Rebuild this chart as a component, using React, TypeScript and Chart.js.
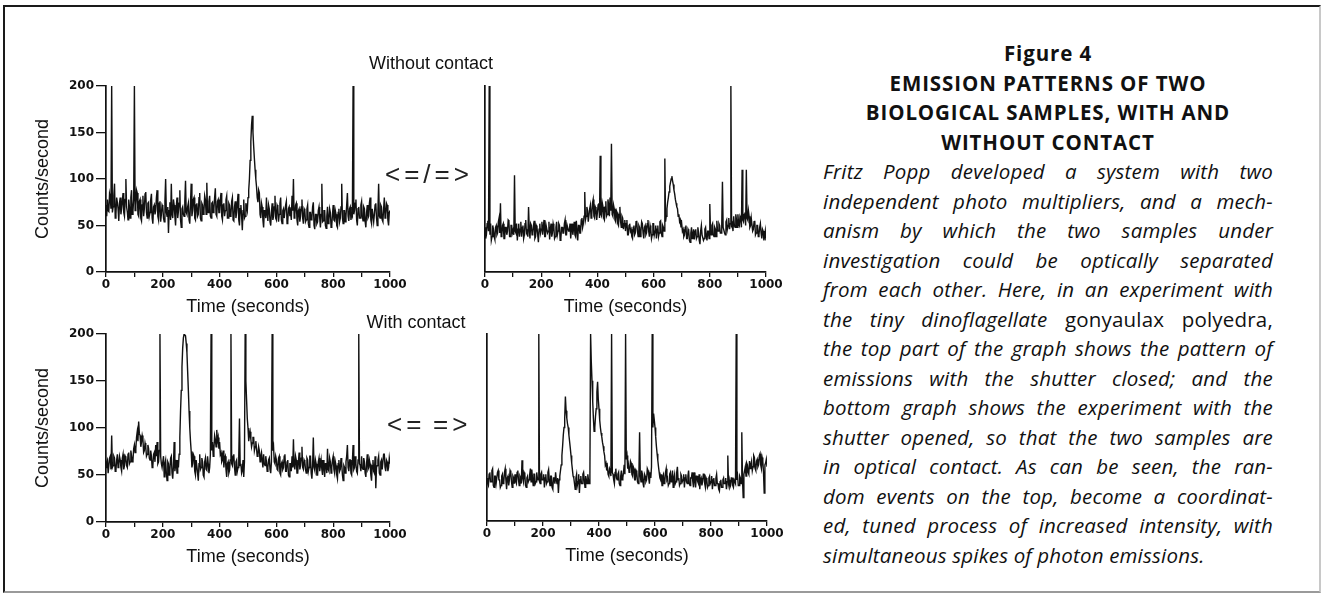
import React, { useEffect, useRef } from 'react';
import { Chart, registerables } from 'chart.js';

Chart.register(...registerables);

// ---- axes / labels ----
const SAMPLE_STEP_S = 2.5; // one reading every 2.5 seconds
const X_MIN = 0;
const X_MAX = 1000;
const X_TICK_STEP = 100;
const X_LABEL_EVERY = 200;
const Y_MIN = 0;
const Y_MAX = 200;
const Y_TICK_STEP = 50;
const X_TITLE = 'Time (seconds)';
const Y_TITLE = 'Counts/second';
const ROW_TITLES = ['Without contact', 'With contact'];
const ROW_SYMBOLS = ['<=/=>', '<=', '=>'];

// ---- series (counts/second, one row = 50 s) ----
const withoutContactLeft = [
  72, 60, 78, 66, 65, 84, 80, 68, 200, 64, 70, 82, 95, 58, 62, 80, 75, 68, 55, 74,
  80, 62, 68, 76, 85, 64, 60, 78, 100, 70, 65, 56, 78, 70, 58, 80, 88, 62, 66, 78,
  200, 66, 72, 88, 85, 62, 60, 76, 78, 58, 55, 72, 82, 60, 68, 84, 86, 64, 58, 74,
  75, 60, 64, 78, 84, 58, 52, 70, 72, 62, 66, 80, 88, 60, 56, 74, 76, 54, 62, 72,
  70, 58, 54, 76, 100, 64, 60, 70, 42, 66, 75, 56, 95, 62, 58, 78, 72, 60, 50, 70,
  80, 58, 65, 74, 88, 56, 48, 68, 70, 62, 60, 76, 98, 64, 62, 70, 74, 56, 52, 74,
  95, 60, 66, 78, 80, 58, 56, 72, 74, 60, 62, 80, 85, 58, 55, 74, 72, 62, 66, 82,
  78, 62, 96, 66, 64, 76, 82, 60, 58, 74, 75, 64, 68, 80, 90, 62, 60, 76, 78, 64,
  64, 78, 85, 60, 56, 72, 74, 60, 66, 78, 82, 58, 58, 74, 72, 60, 62, 76, 80, 56,
  55, 70, 76, 58, 64, 74, 84, 56, 50, 68, 72, 60, 45, 66, 78, 58, 60, 74, 70, 66,
  80, 88, 100, 120, 140, 158, 168, 150, 135, 122, 110, 100, 92, 80, 75, 88, 85, 62, 58, 74,
  70, 56, 48, 66, 66, 58, 80, 62, 55, 72, 68, 54, 50, 64, 74, 56, 60, 70, 82, 58,
  56, 72, 70, 54, 62, 74, 80, 56, 52, 66, 68, 58, 58, 72, 76, 52, 54, 68, 70, 60,
  64, 56, 82, 66, 100, 58, 62, 72, 74, 56, 50, 66, 68, 54, 60, 70, 78, 58, 52, 68,
  66, 54, 56, 68, 72, 52, 48, 64, 64, 56, 58, 70, 75, 50, 46, 62, 62, 52, 54, 66,
  70, 58, 48, 62, 95, 54, 55, 66, 66, 50, 47, 60, 70, 52, 56, 68, 64, 48, 50, 62,
  72, 56, 55, 66, 62, 50, 48, 64, 68, 54, 58, 70, 95, 58, 52, 66, 66, 54, 60, 72,
  85, 60, 55, 68, 70, 56, 62, 60, 200, 62, 66, 74, 78, 56, 50, 68, 70, 58, 58, 72,
  76, 60, 55, 70, 68, 54, 48, 64, 72, 58, 60, 74, 80, 56, 52, 68, 68, 54, 62, 72,
  74, 58, 50, 66, 95, 60, 58, 72, 70, 56, 54, 68, 80, 58, 62, 74, 72, 56, 50, 64,
  66,
];

const withoutContactRight = [
  48, 36, 40, 52, 55, 44, 200, 40, 52, 34, 38, 50, 46, 38, 35, 48, 50, 40, 42, 54,
  58, 42, 74, 38, 40, 50, 52, 36, 36, 48, 48, 40, 44, 56, 55, 38, 38, 50, 50, 42,
  45, 40, 104, 44, 42, 52, 34, 46, 52, 38, 46, 54, 38, 48, 50, 36, 40, 52, 56, 42,
  44, 38, 70, 46, 36, 52, 50, 40, 42, 50, 55, 36, 38, 50, 48, 40, 32, 46, 52, 42,
  46, 54, 40, 48, 56, 38, 38, 50, 50, 42, 44, 54, 35, 46, 52, 38, 42, 52, 48, 36,
  38, 48, 54, 40, 44, 52, 50, 34, 36, 48, 48, 42, 42, 52, 56, 40, 40, 50, 50, 44,
  44, 52, 36, 46, 52, 40, 46, 54, 40, 38, 55, 44, 34, 50, 50, 42, 42, 56, 58, 48,
  52, 60, 86, 56, 60, 70, 66, 54, 54, 68, 72, 58, 62, 74, 78, 60, 58, 70, 68, 56,
  64, 72, 74, 58, 125, 62, 60, 74, 70, 58, 56, 70, 76, 60, 62, 78, 72, 60, 80, 66,
  138, 62, 60, 72, 68, 56, 54, 66, 64, 52, 50, 62, 70, 54, 48, 60, 58, 46, 52, 56,
  44, 52, 56, 40, 40, 50, 52, 44, 46, 38, 36, 48, 50, 40, 42, 54, 55, 44, 38, 50,
  48, 38, 44, 54, 52, 42, 36, 48, 50, 40, 42, 52, 56, 44, 38, 50, 46, 36, 40, 52,
  52, 40, 44, 50, 36, 46, 50, 38, 42, 54, 55, 42, 38, 50, 48, 44, 122, 54, 60, 68,
  75, 80, 86, 92, 96, 100, 103, 98, 94, 88, 84, 78, 74, 70, 68, 60, 62, 54, 56, 48,
  52, 44, 46, 38, 40, 48, 50, 36, 36, 46, 44, 34, 32, 42, 48, 36, 40, 46, 35, 44,
  46, 36, 38, 48, 42, 34, 30, 44, 50, 40, 40, 34, 36, 46, 48, 38, 34, 44, 44, 36,
  73, 44, 40, 50, 52, 40, 38, 48, 46, 38, 55, 44, 44, 52, 50, 42, 42, 50, 97, 48,
  48, 42, 40, 54, 56, 46, 50, 58, 46, 52, 200, 50, 52, 44, 60, 50, 48, 62, 56, 48,
  62, 52, 50, 60, 58, 48, 110, 56, 54, 62, 64, 50, 110, 58, 56, 66, 60, 48, 50, 58,
  58, 44, 46, 54, 55, 40, 42, 50, 50, 38, 40, 48, 52, 42, 36, 46, 44, 34, 38, 44,
  34,
];

const withContactLeft = [
  58, 64, 66, 52, 52, 68, 70, 56, 92, 58, 60, 70, 68, 54, 55, 66, 72, 58, 62, 70,
  66, 58, 54, 68, 72, 56, 60, 70, 68, 60, 58, 72, 74, 62, 64, 76, 70, 64, 66, 78,
  82, 74, 78, 90, 96, 86, 107, 94, 92, 80, 85, 92, 88, 74, 76, 84, 80, 70, 72, 82,
  78, 68, 66, 76, 70, 58, 60, 72, 74, 64, 82, 70, 85, 62, 64, 76, 200, 70, 62, 58,
  58, 70, 48, 62, 66, 52, 44, 64, 62, 50, 55, 68, 70, 52, 46, 60, 85, 54, 60, 66,
  52, 66, 58, 72, 90, 118, 140, 165, 185, 196, 200, 200, 198, 190, 180, 160, 140, 118, 100, 86,
  75, 58, 62, 72, 70, 54, 50, 66, 66, 52, 44, 62, 72, 56, 58, 68, 64, 50, 48, 64,
  68, 56, 55, 70, 62, 52, 58, 72, 200, 76, 85, 70, 78, 92, 88, 80, 98, 86, 90, 78,
  85, 72, 74, 64, 66, 76, 58, 68, 70, 56, 48, 62, 64, 52, 55, 66, 200, 62, 60, 70,
  72, 58, 50, 64, 66, 54, 58, 70, 110, 60, 62, 52, 55, 66, 48, 64, 200, 150, 130, 110,
  100, 86, 92, 96, 88, 80, 84, 90, 90, 76, 80, 86, 78, 70, 72, 80, 76, 64, 70, 74,
  66, 58, 72, 62, 60, 70, 64, 54, 58, 66, 68, 56, 52, 64, 200, 76, 80, 64, 62, 70,
  66, 56, 55, 68, 70, 52, 50, 62, 64, 56, 58, 70, 72, 54, 54, 64, 66, 50, 48, 62,
  62, 54, 70, 58, 88, 60, 56, 70, 66, 52, 52, 64, 74, 56, 60, 68, 80, 58, 56, 66,
  64, 56, 52, 68, 66, 54, 58, 70, 70, 52, 46, 60, 90, 58, 55, 66, 62, 50, 50, 64,
  68, 54, 60, 66, 56, 50, 66, 58, 48, 62, 62, 52, 78, 56, 54, 68, 64, 52, 58, 66,
  70, 56, 52, 64, 60, 50, 46, 62, 66, 54, 56, 68, 62, 50, 44, 60, 58, 52, 64, 70,
  82, 58, 54, 66, 66, 52, 50, 64, 82, 56, 58, 70, 62, 54, 52, 66, 200, 62, 60, 54,
  70, 58, 56, 68, 64, 52, 48, 62, 72, 56, 58, 66, 62, 50, 44, 60, 66, 54, 52, 70,
  36, 58, 60, 66, 70, 52, 50, 64, 66, 56, 56, 72, 72, 58, 54, 66, 64, 54, 58, 68,
  62,
];

const withContactRight = [
  46, 40, 38, 50, 52, 42, 42, 54, 56, 38, 36, 48, 48, 40, 40, 52, 54, 44, 44, 36,
  38, 48, 50, 40, 42, 52, 56, 44, 34, 46, 48, 38, 44, 54, 52, 42, 36, 48, 46, 40,
  50, 42, 40, 52, 54, 44, 38, 48, 46, 40, 65, 46, 42, 52, 50, 38, 36, 46, 48, 42,
  44, 50, 56, 42, 55, 46, 38, 50, 50, 40, 42, 52, 46, 44, 200, 42, 40, 50, 52, 44,
  44, 50, 36, 46, 50, 40, 42, 52, 55, 44, 38, 48, 48, 36, 34, 46, 46, 40, 52, 44,
  40, 46, 30, 44, 48, 54, 60, 70, 80, 92, 100, 110, 133, 118, 110, 104, 100, 92, 85, 78,
  70, 62, 55, 48, 46, 40, 34, 46, 50, 38, 42, 50, 30, 44, 48, 40, 40, 50, 52, 44,
  36, 48, 44, 40, 50, 44, 40, 48, 200, 170, 150, 128, 110, 96, 100, 112, 120, 138, 149, 130,
  120, 108, 100, 94, 90, 84, 80, 74, 70, 60, 62, 54, 58, 50, 48, 56, 54, 48, 200, 52,
  50, 44, 40, 52, 56, 46, 44, 50, 52, 40, 38, 48, 54, 44, 46, 52, 60, 50, 200, 66,
  70, 56, 60, 52, 55, 64, 62, 50, 48, 58, 56, 44, 44, 54, 52, 42, 40, 50, 95, 48,
  42, 54, 50, 40, 36, 50, 48, 42, 44, 56, 54, 46, 40, 52, 46, 58, 200, 100, 115, 108,
  100, 90, 80, 72, 65, 58, 52, 46, 44, 50, 38, 48, 50, 40, 42, 52, 56, 44, 46, 38,
  40, 50, 52, 42, 44, 54, 36, 46, 50, 40, 42, 52, 58, 44, 46, 38, 40, 50, 48, 42,
  44, 50, 36, 46, 50, 42, 40, 48, 54, 40, 38, 46, 46, 52, 42, 36, 52, 44, 36, 48,
  48, 42, 40, 50, 34, 44, 46, 38, 42, 50, 50, 40, 36, 46, 44, 36, 38, 46, 48, 40,
  42, 48, 34, 44, 46, 38, 38, 46, 50, 40, 40, 34, 32, 42, 44, 36, 36, 44, 46, 40,
  40, 46, 34, 42, 70, 40, 44, 36, 38, 46, 46, 38, 36, 44, 44, 40, 200, 44, 48, 38,
  38, 48, 46, 40, 95, 44, 25, 50, 54, 58, 48, 62, 60, 52, 50, 64, 56, 60, 64, 54,
  58, 70, 68, 56, 54, 64, 66, 58, 60, 70, 72, 60, 56, 68, 64, 52, 30, 60, 62, 66,
  58,
];

// ---- caption text ----
const HEADING_LINES = [
  'Figure 4',
  'EMISSION PATTERNS OF TWO',
  'BIOLOGICAL SAMPLES, WITH AND',
  'WITHOUT CONTACT',
];
// words wrapped in ^...^ are set upright
const BODY_LINES = [
  'Fritz Popp developed a system with two',
  'independent photo multipliers, and a mech-',
  'anism by which the two samples under',
  'investigation could be optically separated',
  'from each other. Here, in an experiment with',
  'the tiny dinoflagellate ^gonyaulax^ ^polyedra,^',
  'the top part of the graph shows the pattern of',
  'emissions with the shutter closed; and the',
  'bottom graph shows the experiment with the',
  'shutter opened, so that the two samples are',
  'in optical contact. As can be seen, the ran-',
  'dom events on the top, become a coordinat-',
  'ed, tuned process of increased intensity, with',
  'simultaneous spikes of photon emissions.',
];

const TICK_FONT = { family: 'DejaVu Sans', weight: 'bold' as const, size: 12 };
const TITLE_FONT = { family: 'Liberation Sans', size: 18 };

type PanelProps = {
  values: number[];
  left: number;
  top: number;
  width: number;
  height: number;
  yAxisWidth: number;
  padTop: number;
  padRight: number;
  showYTicks: boolean;
};

function Panel(p: PanelProps) {
  const ref = useRef<HTMLCanvasElement | null>(null);
  useEffect(() => {
    if (!ref.current) return;
    const chart = new Chart(ref.current, {
      type: 'line',
      data: {
        datasets: [
          {
            data: p.values.map((v, i) => ({ x: i * SAMPLE_STEP_S, y: v })),
            borderColor: '#111',
            borderWidth: 1.4,
            pointRadius: 0,
            tension: 0,
            fill: false,
          },
        ],
      },
      options: {
        animation: false,
        responsive: false,
        devicePixelRatio: 1,
        events: [],
        layout: { padding: { top: p.padTop, right: p.padRight, left: 0, bottom: 0 } },
        plugins: { legend: { display: false }, tooltip: { enabled: false } },
        scales: {
          x: {
            type: 'linear',
            min: X_MIN,
            max: X_MAX,
            ticks: {
              stepSize: X_TICK_STEP,
              autoSkip: false,
              maxRotation: 0,
              color: '#111',
              font: TICK_FONT,
              padding: 1,
              callback: (v: any) => (Number(v) % X_LABEL_EVERY === 0 ? String(v) : ''),
            },
            grid: { display: true, drawOnChartArea: false, drawTicks: true, tickLength: 5, color: '#111', lineWidth: 1.3 },
            border: { display: true, color: '#111', width: 1.7 },
            title: { display: true, text: X_TITLE, color: '#111', font: TITLE_FONT, padding: { top: 0, bottom: 0 } },
            afterFit: (s: any) => {
              s.height = 46;
            },
          },
          y: {
            type: 'linear',
            min: Y_MIN,
            max: Y_MAX,
            ticks: {
              display: p.showYTicks,
              stepSize: Y_TICK_STEP,
              color: '#111',
              font: TICK_FONT,
              padding: 2,
            },
            grid: { display: p.showYTicks, drawOnChartArea: false, drawTicks: true, tickLength: 10, color: '#111', lineWidth: 1.3 },
            border: { display: true, color: '#111', width: 1.7 },
            title: { display: p.showYTicks, text: Y_TITLE, color: '#111', font: TITLE_FONT, padding: { top: 32, bottom: 0 } },
            afterFit: (s: any) => {
              s.width = p.yAxisWidth;
            },
          },
        },
      },
    } as any);
    return () => chart.destroy();
  }, []);
  return (
    <canvas
      ref={ref}
      width={p.width}
      height={p.height}
      style={{ position: 'absolute', left: p.left, top: p.top, width: p.width, height: p.height }}
    />
  );
}

function BodyLine({ text, last }: { text: string; last: boolean }) {
  const words = text.split(' ');
  return (
    <div
      style={{
        display: 'flex',
        justifyContent: last ? 'flex-start' : 'space-between',
        gap: last ? '0.26em' : 0,
        whiteSpace: 'nowrap',
        height: 29.5,
        lineHeight: '29.5px',
      }}
    >
      {words.map((w, i) => {
        const upright = w.startsWith('^');
        const t = upright ? w.replace(/\^/g, '') : w;
        return (
          <span key={i} style={{ fontStyle: upright ? 'normal' : 'italic' }}>
            {t}
          </span>
        );
      })}
    </div>
  );
}

export default function App() {
  const txt = (extra: React.CSSProperties): React.CSSProperties => ({
    position: 'absolute',
    whiteSpace: 'nowrap',
    color: '#111',
    ...extra,
  });
  const sym: React.CSSProperties = { lineHeight: '34px', fontFamily: 'Liberation Sans', fontSize: 26, letterSpacing: 4, color: '#222' };
  return (
    <div
      style={{
        position: 'absolute',
        left: 0,
        top: 0,
        width: 1321,
        height: 594,
        background: '#fff',
        overflow: 'hidden',
      }}
    >
      <div
        style={{
          position: 'absolute',
          left: 3,
          top: 5,
          width: 1314,
          height: 584,
          borderTop: '2px solid #1a1a1a',
          borderLeft: '2px solid #1a1a1a',
          borderRight: '2px solid #c8c8c8',
          borderBottom: '2px solid #9a9a9a',
        }}
      />
      <Panel values={withoutContactLeft} left={0} top={70} width={410} height={248} yAxisWidth={106} padTop={16} padRight={20} showYTicks={true} />
      <Panel values={withoutContactRight} left={420} top={70} width={370} height={248} yAxisWidth={65} padTop={16} padRight={24} showYTicks={false} />
      <Panel values={withContactLeft} left={0} top={318} width={410} height={250} yAxisWidth={106} padTop={16} padRight={20} showYTicks={true} />
      <Panel values={withContactRight} left={420} top={318} width={370} height={249} yAxisWidth={67} padTop={16} padRight={23} showYTicks={false} />

      <div style={txt({ left: 331, width: 200, top: 52, lineHeight: '22px', textAlign: 'center', fontFamily: 'Liberation Sans', fontSize: 18 })}>
        {ROW_TITLES[0]}
      </div>
      <div style={txt({ left: 316, width: 200, top: 311, lineHeight: '22px', textAlign: 'center', fontFamily: 'Liberation Sans', fontSize: 18 })}>
        {ROW_TITLES[1]}
      </div>
      <div style={txt({ left: 385, top: 157, ...sym })}>{ROW_SYMBOLS[0]}</div>
      <div style={txt({ left: 387, top: 407, ...sym })}>{ROW_SYMBOLS[1]}</div>
      <div style={txt({ left: 433, top: 407, ...sym })}>{ROW_SYMBOLS[2]}</div>

      <div
        style={{
          position: 'absolute',
          left: 823,
          top: 39,
          width: 450,
          fontFamily: 'Open Sans',
          fontSize: 20.5,
          letterSpacing: 0.2,
          color: '#111',
        }}
      >
        {HEADING_LINES.map((h, i) => (
          <div
            key={'h' + i}
            style={{ textAlign: 'center', fontWeight: 'bold', fontSize: 20.5, letterSpacing: 0.9, height: 29.5, lineHeight: '29.5px', whiteSpace: 'nowrap' }}
          >
            {h}
          </div>
        ))}
        {BODY_LINES.map((l, i) => (
          <BodyLine key={'b' + i} text={l} last={i === BODY_LINES.length - 1} />
        ))}
      </div>
    </div>
  );
}
